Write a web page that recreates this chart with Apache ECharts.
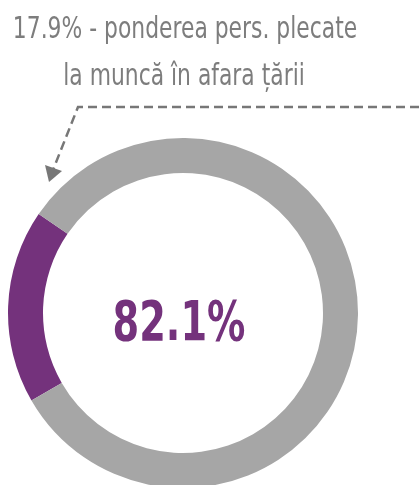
<!DOCTYPE html>
<html>
<head>
<meta charset="UTF-8">
<title>donut</title>
<script src="https://cdn.jsdelivr.net/npm/echarts@6/dist/echarts.min.js"></script>
<style>
  html, body { margin: 0; padding: 0; background: #fff; }
</style>
</head>
<body>
	<div id="main" style="width: 419px;height:485px;"></div>
	<script type="text/javascript">
		// date
		var categories = [ 'plecate', 'ramase' ];
		var values = [ 17.9, 82.1 ];
		var titleLines = [ '17.9% - ponderea pers. plecate', 'la muncă în afara țării' ];
		var centerLabel = '82.1%';

		var FONT = '"DejaVu Sans Condensed", sans-serif';
		var GREY_TXT = '#7d7d7d';

		var myChart = echarts.init(document.getElementById('main'));

		var option = {
			animation : false,
			graphic : [ {
				type : 'text',
				x : 185,
				y : 15,
				scaleX : 0.81,
				style : {
					text : titleLines[0],
					fill : GREY_TXT,
					font : '30px ' + FONT,
					align : 'center',
					verticalAlign : 'top'
				}
			}, {
				type : 'text',
				x : 184,
				y : 62,
				scaleX : 0.81,
				style : {
					text : titleLines[1],
					fill : GREY_TXT,
					font : '30px ' + FONT,
					align : 'center',
					verticalAlign : 'top'
				}
			}, {
				type : 'polyline',
				shape : {
					points : [ [ 419, 107 ], [ 78, 107 ], [ 53, 170 ] ]
				},
				style : {
					stroke : '#777',
					lineWidth : 2.5,
					lineDash : [ 9, 5 ],
					fill : null
				}
			}, {
				type : 'polygon',
				shape : {
					points : [ [ 49, 182 ], [ 45, 165 ], [ 62, 171 ] ]
				},
				style : {
					fill : '#777'
				}
			}, {
				type : 'text',
				x : 179,
				y : 297,
				scaleX : 0.76,
				style : {
					text : centerLabel,
					fill : '#74327c',
					font : 'bold 56px ' + FONT,
					align : 'center',
					verticalAlign : 'top'
				}
			} ],
			series : [ {
				type : 'pie',
				center : [ 183, 313 ],
				radius : [ 140, 175 ],
				startAngle : 210,
				clockwise : true,
				label : { show : false },
				labelLine : { show : false },
				emphasis : { disabled : true },
				data : [ {
					name : categories[0],
					value : values[0],
					itemStyle : { color : '#74327c' }
				}, {
					name : categories[1],
					value : values[1],
					itemStyle : { color : '#a6a6a6' }
				} ]
			} ]
		};

		myChart.setOption(option);
	</script>
</body>
</html>
